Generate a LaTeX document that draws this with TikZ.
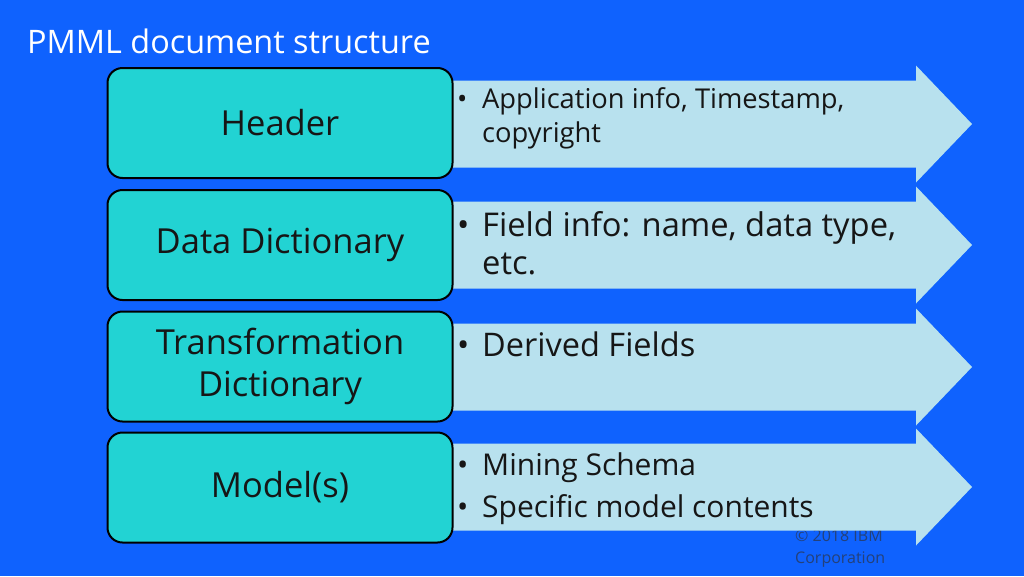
\documentclass[tikz,border=0pt]{standalone}
\usepackage{fontspec}
\setmainfont{Open Sans}
\definecolor{bgblue}{HTML}{0F62FE}
\definecolor{boxteal}{HTML}{22D3D3}
\definecolor{arrowblue}{HTML}{B8E1EE}
\definecolor{copyc}{HTML}{24417A}
\definecolor{ink}{HTML}{161616}
\newcommand{\bul}{\makebox[25pt][l]{\textbullet}}
\begin{document}
\begin{tikzpicture}[x=1pt,y=-1pt,
  boxnode/.style={draw=black, line width=2pt, fill=boxteal, rounded corners=15pt,
    minimum width=345pt, minimum height=110pt, inner sep=0pt, align=center,
    text=ink, font=\fontsize{34.5}{42}\selectfont},
  arrowtext/.style={anchor=base west, inner sep=0pt, align=left, text=ink}]
\fill[bgblue] (0,0) rectangle (1024,576);
\useasboundingbox (0,0) rectangle (1024,576);
\node[anchor=base west, inner sep=0pt, text=white, font=\fontsize{32.4}{36}\selectfont] (title) at (27,53) {PMML document structure};
\node[anchor=base west, inner sep=0pt, align=left, text=copyc, font=\fontsize{16}{22}\selectfont] (copy) at (795,563) {© 2018 IBM\\Corporation};
\foreach \c in {124,245,367,487}
  \fill[arrowblue] (440,\c-43.5) -- (916,\c-43.5) -- (916,\c-58.5) -- (972,\c) -- (916,\c+58.5) -- (916,\c+43.5) -- (440,\c+43.5) -- cycle;
\node[boxnode] (header) at (280,123) {Header};
\node[boxnode] (datadict) at (280,245) {Data Dictionary};
\node[boxnode] (transdict) at (280,366.5) {Transformation\\Dictionary};
\node[boxnode] (models) at (280,487.5) {Model(s)};
\node[arrowtext, font=\fontsize{27.3}{34}\selectfont] (t1) at (457,142) {\bul Application info, Timestamp,\\\hspace*{25pt}copyright};
\node[arrowtext, font=\fontsize{32.7}{38}\selectfont] (t2) at (457,274) {\bul Field info: name, data type,\\\hspace*{25pt}etc.};
\node[arrowtext, font=\fontsize{32.5}{38}\selectfont] (t3) at (457,356) {\bul Derived Fields};
\node[arrowtext, font=\fontsize{30}{42}\selectfont] (t4) at (457,517) {\bul Mining Schema\\\bul Specific model contents};
\end{tikzpicture}
\end{document}
